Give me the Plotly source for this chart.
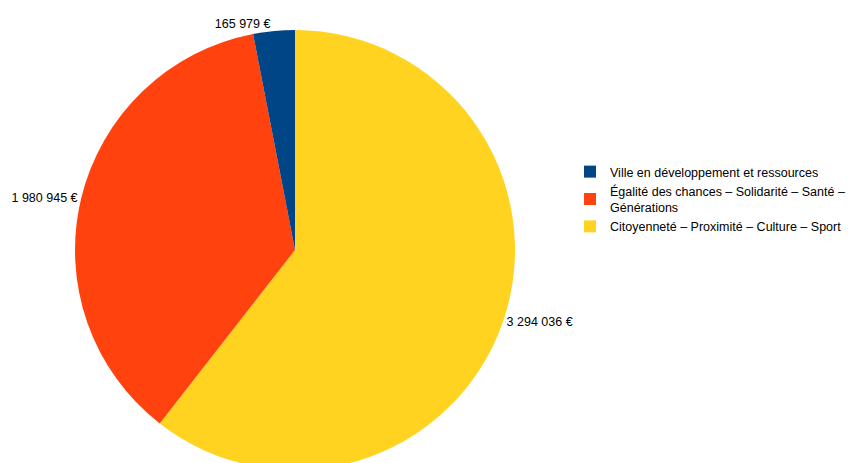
import plotly.graph_objects as go

categories = [
    "Citoyenneté – Proximité – Culture – Sport",
    "Égalité des chances – Solidarité – Santé –<br>Générations",
    "Ville en développement et ressources",
]
values = [3294036, 1980945, 165979]
colors = ["#ffd320", "#ff420e", "#004586"]

W, H = 849, 500
T, B = 30, 30
fig = go.Figure(
    go.Pie(
        labels=categories,
        values=values,
        sort=False,
        direction="clockwise",
        rotation=0,
        marker=dict(colors=colors, line=dict(width=0)),
        textposition="outside",
        texttemplate="%{value:,.0f} €",
        textfont=dict(family="Liberation Sans", size=12.5, color="#000000"),
        domain=dict(x=[75 / W, 515 / W], y=[0, 1]),
        hoverinfo="label+value",
    )
)
fig.update_layout(
    width=W,
    height=H,
    margin=dict(l=0, r=0, t=T, b=B, autoexpand=False),
    separators=", ",
    paper_bgcolor="white",
    plot_bgcolor="white",
    font=dict(family="Liberation Sans", size=12.5, color="#000000"),
    legend=dict(
        x=570 / W,
        xanchor="left",
        y=1 - (157 - T) / (H - T - B),
        yanchor="top",
        font=dict(size=12.5),
        itemwidth=30,
        tracegroupgap=0,
        traceorder="reversed",
    ),
    showlegend=True,
)
fig.write_html(
    "out.html",
    config={"displayModeBar": False},
    post_script="document.body.style.margin='0';document.body.style.overflow='hidden';",
)
